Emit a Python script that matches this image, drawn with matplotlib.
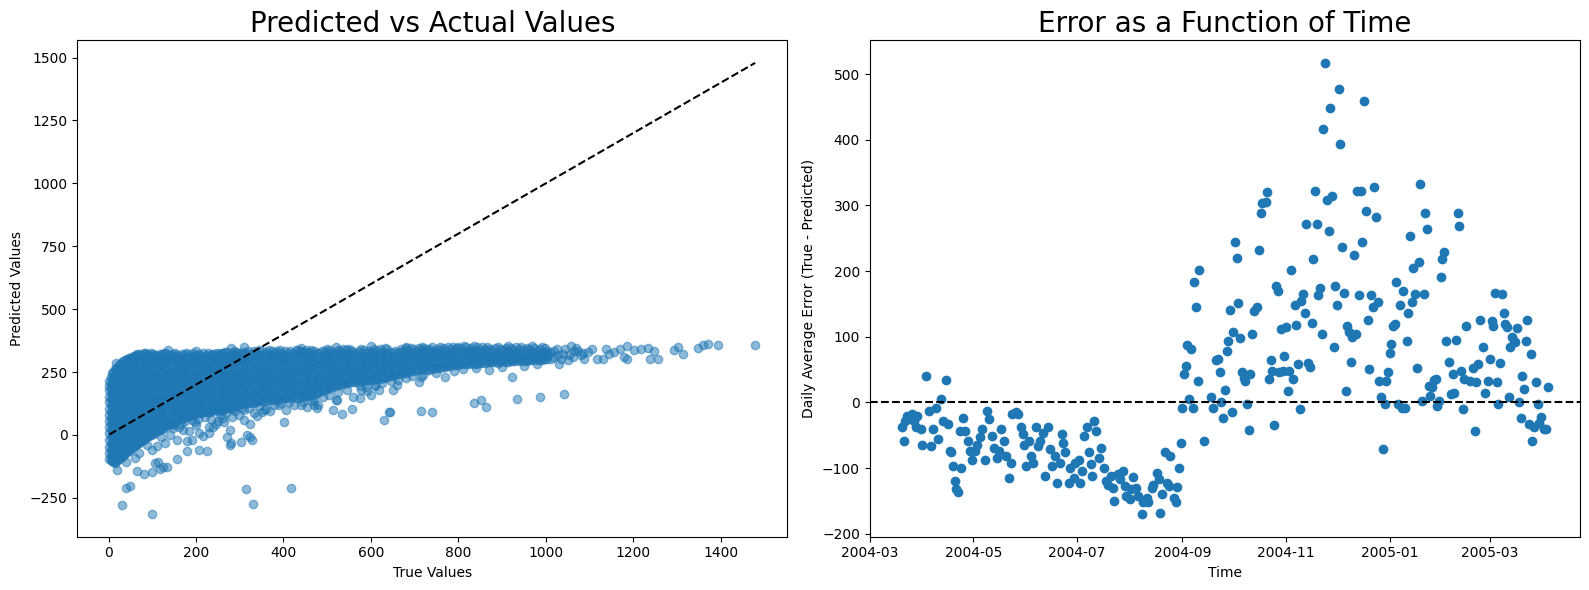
import numpy as np
import pandas as pd
import matplotlib
matplotlib.use('Agg')
import matplotlib.pyplot as plt

# ---- Left panel: true vs predicted NOx ----
# dense band, first pass of columns: true value -> predicted values seen there
band_true = [2, 8, 14, 20, 27, 34, 42, 50, 58, 66, 75, 84, 93,
             102, 112, 122, 132, 142, 152, 162, 172, 182, 192,
             202, 212, 222, 232, 242, 252, 262, 272, 282, 292,
             302, 314, 326, 338, 350, 362, 374, 386, 398, 410, 422, 434,
             446, 458, 470, 482, 494, 506, 518, 530, 542, 554, 566, 578,
             590, 602, 614, 626, 638, 650, 662, 674, 686, 698,
             710, 722, 734, 746, 758, 770, 782, 794, 806, 818, 830, 842,
             854, 866, 878, 890, 902, 914, 926, 938, 950, 962, 974, 986, 998]
band_pred = [
    [-95, -72, -48, -20, 6, 30, 56, 80, 104, 130, 152, 178, 196, 215],
    [-104, -80, -56, -30, -4, 20, 46, 70, 96, 120, 146, 170, 194, 220, 245],
    [-110, -86, -60, -34, -10, 16, 40, 66, 90, 116, 140, 166, 190, 214, 238, 262],
    [-100, -76, -50, -26, 0, 26, 50, 76, 100, 126, 150, 176, 200, 226, 250, 268],
    [-92, -66, -40, -16, 10, 34, 60, 84, 110, 134, 160, 184, 210, 234, 258, 282],
    [-82, -56, -30, -6, 20, 44, 70, 94, 120, 144, 170, 194, 220, 244, 270, 292],
    [-68, -44, -20, 6, 30, 56, 80, 106, 130, 156, 180, 206, 230, 256, 280, 300],
    [-58, -34, -10, 16, 40, 66, 90, 116, 140, 166, 190, 216, 240, 266, 290, 306],
    [-46, -24, 0, 26, 50, 76, 100, 126, 150, 176, 200, 226, 250, 276, 300, 314],
    [-38, -14, 10, 36, 60, 86, 110, 136, 160, 186, 210, 236, 260, 286, 308, 322],
    [-26, -4, 20, 46, 70, 96, 120, 146, 170, 196, 220, 246, 270, 296, 318],
    [-14, 10, 36, 60, 86, 110, 136, 160, 186, 210, 236, 260, 286, 310, 326],
    [-4, 20, 46, 70, 96, 120, 146, 170, 196, 220, 246, 270, 296, 318],
    [4, 30, 54, 80, 104, 130, 154, 180, 204, 230, 254, 280, 304, 322],
    [14, 40, 64, 90, 114, 140, 164, 190, 214, 240, 264, 290, 314],
    [24, 48, 74, 98, 124, 148, 174, 198, 224, 248, 274, 298, 320],
    [34, 60, 84, 110, 134, 160, 184, 210, 234, 260, 284, 308, 326],
    [44, 68, 94, 118, 144, 168, 194, 218, 244, 268, 294, 316],
    [54, 80, 104, 130, 154, 180, 204, 230, 254, 280, 304, 324],
    [62, 86, 112, 136, 162, 186, 212, 236, 262, 286, 310],
    [66, 92, 116, 142, 166, 192, 216, 242, 266, 292, 318],
    [74, 98, 124, 148, 174, 198, 224, 248, 274, 298, 322],
    [80, 106, 130, 156, 180, 206, 230, 256, 280, 304, 326],
    [86, 110, 136, 160, 186, 210, 236, 260, 286, 312],
    [88, 114, 138, 164, 188, 214, 238, 264, 288, 314],
    [92, 116, 142, 166, 192, 216, 242, 266, 292, 318],
    [90, 116, 140, 166, 190, 216, 240, 266, 290, 316],
    [98, 122, 148, 172, 198, 222, 248, 272, 298, 322],
    [96, 120, 146, 170, 196, 220, 246, 270, 296, 320],
    [102, 126, 152, 176, 202, 226, 252, 276, 302, 324],
    [108, 132, 158, 182, 208, 232, 258, 282, 306, 328],
    [104, 130, 154, 180, 204, 230, 254, 280, 304, 326],
    [114, 140, 164, 190, 214, 240, 264, 290, 314, 330],
    [122, 144, 166, 188, 210, 232, 254, 276, 298, 320],
    [128, 150, 172, 194, 216, 238, 260, 282, 304, 326],
    [125, 147, 169, 191, 213, 235, 257, 279, 301, 323],
    [132, 154, 176, 198, 220, 242, 264, 286, 308, 330],
    [136, 158, 180, 202, 224, 246, 268, 290, 312, 332],
    [134, 156, 178, 200, 222, 244, 266, 288, 310, 330],
    [140, 162, 184, 206, 228, 250, 272, 294, 316, 334],
    [138, 160, 182, 204, 226, 248, 270, 292, 314, 332],
    [145, 167, 189, 211, 233, 255, 277, 299, 321],
    [148, 170, 192, 214, 236, 258, 280, 302, 324],
    [150, 172, 194, 216, 238, 260, 282, 304, 326],
    [146, 168, 190, 212, 234, 256, 278, 300, 322, 336],
    [152, 174, 196, 218, 240, 262, 284, 306, 328],
    [155, 177, 199, 221, 243, 265, 287, 309, 331],
    [160, 182, 204, 226, 248, 270, 292, 314, 334],
    [170, 192, 214, 236, 258, 280, 302, 324],
    [180, 202, 224, 246, 268, 290, 312, 334],
    [188, 210, 232, 254, 276, 298, 320, 338],
    [195, 217, 239, 261, 283, 305, 327],
    [200, 222, 244, 266, 288, 310, 332],
    [205, 227, 249, 271, 293, 315, 337],
    [210, 232, 254, 276, 298, 320, 338],
    [212, 234, 256, 278, 300, 322],
    [216, 238, 260, 282, 304, 326, 340],
    [214, 236, 258, 280, 302, 324],
    [220, 242, 264, 286, 308, 330],
    [222, 244, 266, 288, 310, 332],
    [225, 247, 269, 291, 313, 335],
    [232, 254, 276, 298, 320, 340],
    [236, 258, 280, 302, 324],
    [242, 264, 286, 308, 330],
    [245, 267, 289, 311, 333],
    [250, 272, 294, 316, 338],
    [256, 278, 300, 322, 342],
    [260, 282, 304, 326, 344],
    [262, 284, 306, 328, 346],
    [258, 280, 302, 324, 342],
    [265, 287, 309, 331],
    [268, 290, 312, 334, 348],
    [272, 294, 316, 338],
    [275, 297, 319, 341],
    [278, 300, 322, 344],
    [280, 302, 324, 346],
    [282, 304, 326, 348],
    [284, 306, 328, 346],
    [282, 304, 326, 348],
    [286, 308, 330, 350],
    [288, 310, 332, 348],
    [290, 312, 334],
    [286, 308, 330, 350],
    [292, 314, 336],
    [290, 312, 334, 352],
    [294, 316, 338],
    [296, 318, 340],
    [292, 314, 336],
    [298, 320, 342],
    [300, 322, 344],
    [296, 318, 340],
    [302, 324, 346],
]

# second pass of columns, between the first ones
band_true_b = [5, 11, 17, 23, 30, 38, 46, 54, 62, 70, 80, 88, 97,
               107, 117, 127, 137, 147, 157, 167, 177, 187, 197,
               207, 217, 227, 237, 247, 257, 267, 277, 287, 297,
               308, 320, 332, 344, 356, 368, 380, 392, 404, 416, 428, 440,
               452, 464, 476, 488, 500, 512, 524, 536, 548, 560, 572, 584,
               596, 608, 620, 632, 644, 656, 668, 680, 692, 704,
               716, 728, 740, 752, 764, 776, 788, 800, 812, 824, 836, 848,
               860, 872, 884, 896, 908, 920, 932, 944, 956, 968, 980, 992, 1004]
band_pred_b = [
    [-100, -84, -60, -36, -8, 18, 42, 68, 92, 118, 142, 166, 188, 205, 230],
    [-108, -92, -68, -42, -16, 8, 34, 58, 84, 108, 134, 158, 182, 206, 230, 252],
    [-106, -96, -72, -46, -22, 4, 28, 54, 78, 104, 128, 154, 178, 202, 228, 252, 266],
    [-96, -88, -62, -38, -12, 14, 38, 64, 88, 114, 138, 164, 188, 214, 238, 262, 276],
    [-88, -78, -52, -28, -2, 22, 48, 72, 98, 122, 148, 172, 198, 222, 246, 270, 288],
    [-76, -68, -42, -18, 8, 32, 58, 82, 108, 132, 158, 182, 208, 232, 258, 282, 298],
    [-64, -56, -32, -8, 18, 42, 68, 92, 118, 142, 168, 192, 218, 242, 268, 292, 304],
    [-52, -46, -22, 4, 28, 54, 78, 104, 128, 154, 178, 204, 228, 254, 278, 300, 310],
    [-42, -36, -12, 14, 38, 64, 88, 114, 138, 164, 188, 214, 238, 264, 288, 310, 318],
    [-32, -26, -2, 24, 48, 74, 98, 124, 148, 174, 198, 224, 248, 274, 298, 320],
    [-20, -16, 8, 34, 58, 84, 108, 134, 158, 184, 208, 234, 258, 284, 308, 324],
    [-10, -2, 24, 48, 74, 98, 124, 148, 174, 198, 224, 248, 274, 298, 320],
    [0, 8, 34, 58, 84, 108, 134, 158, 184, 208, 234, 258, 284, 308, 324],
    [8, 18, 42, 68, 92, 118, 142, 168, 192, 218, 242, 268, 292, 316],
    [18, 28, 52, 78, 102, 128, 152, 178, 202, 228, 252, 278, 302, 322],
    [28, 36, 62, 86, 112, 136, 162, 186, 212, 236, 262, 286, 310, 324],
    [38, 48, 72, 98, 122, 148, 172, 198, 222, 248, 272, 296, 318],
    [48, 56, 82, 106, 132, 156, 182, 206, 232, 256, 282, 306, 322],
    [56, 68, 92, 118, 142, 168, 192, 218, 242, 268, 292, 316],
    [64, 74, 100, 124, 150, 174, 200, 224, 250, 274, 298, 320],
    [70, 80, 104, 130, 154, 180, 204, 230, 254, 280, 304, 324],
    [76, 86, 112, 136, 162, 186, 212, 236, 262, 286, 310],
    [82, 94, 118, 144, 168, 194, 218, 244, 268, 292, 316],
    [86, 98, 124, 148, 174, 198, 224, 248, 274, 298, 322],
    [90, 102, 126, 152, 176, 202, 226, 252, 276, 300, 324],
    [92, 104, 130, 154, 180, 204, 230, 254, 278, 304, 326],
    [94, 104, 128, 154, 178, 204, 228, 254, 278, 304, 322],
    [98, 110, 136, 160, 186, 210, 236, 260, 284, 310, 324],
    [100, 108, 134, 158, 184, 208, 234, 258, 284, 308, 326],
    [104, 114, 140, 164, 190, 214, 240, 264, 290, 314, 330],
    [108, 120, 144, 170, 194, 220, 244, 270, 294, 318],
    [110, 118, 142, 168, 192, 218, 242, 268, 292, 316, 332],
    [118, 130, 154, 178, 202, 228, 252, 278, 302, 324],
    [124, 133, 155, 177, 199, 221, 243, 265, 287, 309, 330],
    [126, 139, 161, 183, 205, 227, 249, 271, 293, 315, 334],
    [128, 136, 158, 180, 202, 224, 246, 268, 290, 312, 332],
    [134, 143, 165, 187, 209, 231, 253, 275, 297, 319, 336],
    [135, 147, 169, 191, 213, 235, 257, 279, 301, 323],
    [137, 145, 167, 189, 211, 233, 255, 277, 299, 321, 336],
    [139, 151, 173, 195, 217, 239, 261, 283, 305, 325],
    [142, 149, 171, 193, 215, 237, 259, 281, 303, 325, 338],
    [146, 156, 178, 200, 222, 244, 266, 288, 310, 332],
    [149, 159, 181, 203, 225, 247, 269, 291, 313, 334],
    [148, 161, 183, 205, 227, 249, 271, 293, 315, 336],
    [149, 157, 179, 201, 223, 245, 267, 289, 311, 332],
    [154, 163, 185, 207, 229, 251, 273, 295, 317, 336],
    [158, 166, 188, 210, 232, 254, 276, 298, 320, 338],
    [165, 171, 193, 215, 237, 259, 281, 303, 325],
    [175, 181, 203, 225, 247, 269, 291, 313, 335],
    [184, 191, 213, 235, 257, 279, 301, 323, 340],
    [192, 199, 221, 243, 265, 287, 309, 331],
    [198, 206, 228, 250, 272, 294, 316, 338],
    [202, 211, 233, 255, 277, 299, 321, 340],
    [208, 216, 238, 260, 282, 304, 326, 342],
    [211, 221, 243, 265, 287, 309, 331],
    [214, 223, 245, 267, 289, 311, 333],
    [215, 227, 249, 271, 293, 315, 337],
    [217, 225, 247, 269, 291, 313, 335],
    [221, 231, 253, 275, 297, 319, 340],
    [224, 233, 255, 277, 299, 321, 342],
    [228, 236, 258, 280, 302, 324, 344],
    [234, 243, 265, 287, 309, 331],
    [239, 247, 269, 291, 313, 335],
    [244, 253, 275, 297, 319, 340],
    [248, 256, 278, 300, 322, 344],
    [253, 261, 283, 305, 327, 346],
    [258, 267, 289, 311, 333],
    [261, 271, 293, 315, 337, 348],
    [260, 273, 295, 317, 339],
    [262, 269, 291, 313, 335, 348],
    [266, 276, 298, 320, 342],
    [270, 279, 301, 323, 345],
    [274, 283, 305, 327, 349],
    [276, 286, 308, 330, 350],
    [279, 289, 311, 333, 350],
    [281, 291, 313, 335, 352],
    [283, 293, 315, 337],
    [283, 295, 317, 339, 352],
    [284, 293, 315, 337],
    [287, 297, 319, 341],
    [289, 299, 321, 343],
    [288, 301, 323, 345],
    [289, 297, 319, 341],
    [291, 303, 325, 347],
    [292, 301, 323, 345],
    [295, 305, 327, 349],
    [294, 307, 329, 350],
    [295, 303, 325, 347],
    [299, 309, 331, 352],
    [298, 311, 333],
    [299, 307, 329, 351],
    [303, 313, 335],
]

# ragged fringe just under the dense band
fringe_true = [150, 165, 175, 190, 205, 220, 235, 255, 268, 290, 170, 198, 245, 262, 283, 298,
               310, 322, 345, 360, 378, 395, 412, 425, 445, 470, 490, 350, 405, 480,
               505, 525, 545, 560, 575, 590, 610, 625, 645, 660, 680, 695, 520, 650,
               720, 750, 770, 790, 810, 840, 870, 900, 950, 980,
               1005, 1012, 1020, 1028, 1036, 1045, 1062, 1070, 1085]
fringe_pred = [40, 45, 55, 60, 65, 70, 62, 78, 88, 95, 20, 50, 45, 68, 70, 80,
               100, 108, 115, 105, 118, 125, 130, 120, 132, 140, 150, 90, 100, 120,
               160, 170, 180, 150, 195, 190, 200, 205, 215, 200, 225, 235, 140, 180,
               240, 245, 230, 255, 262, 268, 260, 270, 275, 280,
               320, 300, 335, 318, 300, 340, 310, 345, 325]

# points that sit well off the dense band
stray_true = [16, 20, 40, 41, 50, 30, 99, 64, 80, 99, 106, 114, 124, 133, 157, 118,
              87, 110, 129, 148, 156, 179, 190, 180, 206, 225, 206, 229, 229, 263,
              277, 278, 281, 302, 309, 317, 324, 328, 305, 332, 324, 315, 330, 418, 402,
              469, 477, 523, 534, 514, 557, 576, 600, 619, 641, 630, 643, 661, 710, 715,
              714, 739, 836, 851, 863, 923, 935, 987, 1042, 577, 592, 610,
              185, 200, 215, 240, 250, 270, 340, 355, 370, 390, 440, 455, 465,
              160, 140, 120, 100, 70, 60,
              135, 200, 280, 310, 440, 520, 600, 680]
stray_pred = [287, -140, -108, -212, -203, -278, -315, -143, -155, -146, -112, -106, -126, -128, -97, -135,
              -40, -46, -33, 26, -20, -26, -22, -62, -60, -65, 7, 33, 7, 53,
              -40, 20, -33, -30, 60, 0, -7, -20, 106, 86, 45, -214, -275, -212, 50,
              119, 106, 139, 83, 99, 102, 146, 159, 179, 93, 60, 90, 218, 212, 230,
              95, 90, 126, 139, 110, 229, 142, 150, 161, 180, 175, 195,
              15, 40, -5, 30, 55, -10, 75, 100, 95, 120, 120, 110, 135,
              30, 0, -10, -60, -70, -90,
              338, 335, 345, 350, 345, 350, 352, 350]

# sparse high end of the true values
tail_true = [1010, 1018, 1025, 1031, 1040, 1050, 1054, 1058, 1065, 1073, 1080, 1088,
             1096, 1105, 1118, 1130, 1138, 1145, 1157, 1170, 1179, 1187, 1187, 1202,
             1218, 1233, 1239, 1248, 1256, 1294, 1302, 1313, 1348, 1359, 1371, 1394, 1479]
tail_pred = [330, 310, 340, 282, 320, 297, 316, 352, 335, 333, 318, 301,
             330, 340, 300, 303, 340, 322, 331, 340, 311, 300, 352, 336,
             343, 347, 300, 333, 300, 337, 350, 320, 347, 357, 361, 356, 356]

# ---- Right panel: daily average error, days counted from 2004-03-01 ----
err_day = [19, 20, 21, 22, 24, 25, 26, 27, 28, 30, 31, 33, 35, 36, 37, 39, 40, 42, 43, 45,
           46, 47, 48, 49, 50, 51, 52, 53, 54, 55, 56, 58, 59, 60, 62, 63, 65, 66, 68, 69,
           70, 72, 73, 75, 76, 77, 79, 80, 82, 83, 84, 86, 87, 89, 90, 91, 92, 94, 95, 96,
           98, 99, 100, 102, 103, 105, 106, 107, 109, 110, 112, 113, 114, 115, 117, 118, 120, 121, 123, 124,
           125, 126, 128, 129, 130, 131, 132, 133, 135, 136, 138, 139, 140, 142, 143, 144, 146, 147, 149, 150,
           151, 153, 154, 155, 157, 158, 160, 161, 163, 164, 166, 167, 169, 170, 171, 172, 174, 175, 176, 177,
           179, 180, 181, 182, 183, 184, 185, 186, 187, 188, 189, 190, 191, 192, 193, 194,
           197, 201, 202, 204, 205, 206, 207, 208, 209, 210, 211, 212, 213, 214, 215, 216, 217, 218, 219, 220,
           221, 222, 223, 224, 225, 226, 228, 229, 230, 231, 233, 234, 235, 236, 237, 238, 239, 240, 241, 242,
           243, 244, 245, 246, 247, 248, 249, 250, 251, 252, 253, 254, 255, 256, 257, 258, 259, 260, 261, 262,
           263, 264, 265, 266, 267, 268, 269, 270, 271, 272, 273, 274, 275, 276, 277, 278, 279, 280, 281, 282,
           283, 284, 285, 286, 287, 288, 289, 290, 291, 292, 293, 294, 295, 296, 297, 298, 299, 300, 301, 302,
           303, 304, 305, 306, 307, 308, 309, 310, 311, 312, 313, 314, 315, 316, 317, 318, 319, 320, 321, 322,
           323, 324, 325, 326, 327, 328, 329, 330, 331, 332, 333, 334, 335, 336, 337, 338, 339, 341, 342, 343,
           344, 345, 346, 347, 348, 349, 350, 351, 353, 355, 356, 357, 358, 359, 361, 362, 364, 365, 366, 367,
           368, 369, 370, 371, 372, 373, 374, 375, 376, 377, 378, 379, 380, 381, 382, 383, 384, 385, 386, 387,
           388, 389, 390, 391, 392, 393, 394, 395, 397, 398, 399]
err_val = [-38, -58, -28, -20, -23, -17, -28, -38, -20, -41, -64, 41, -13, -66, -41, -8, -56, 5, -28, 34,
           -33, -74, -76, -97, -120, -132, -137, -43, -99, -23, -43, -58, -74, -87, -74, -64, -53, -41, -87, -13,
           -25, -51, -69, -84, -74, -41, -58, -81, -115, -92, -18, -15, -18, -38, -48, -64, -97, -58, -81, -92,
           -38, -66, -58, -46, -112, -38, -71, -97, -81, -122, -92, -48, -61, -76, -122, -99, -115, -92, -87, -122,
           -104, -51, -38, -76, -94, -112, -28, -43, -84, -69, -99, -119, -125, -112, -130, -150, -109, -117, -104, -127,
           -142, -147, -132, -114, -130, -142, -170, -152, -145, -152, -130, -125, -107, -117, -168, -140, -76, -122, -127, -81,
           -145, -152, -129, -99, -61, -8, 43, 56, 87, 5, 82, -8, 183, 145, 33, 201,
           -58, 8, -8, 64, 66, 46, 0, -23, 19, 79, 94, 141, -15, 107, 244, 220, 151, 98, 46, 38,
           33, -3, -42, 43, 104, 140, 145, 232, 288, 303, 305, 321, 36, 64, 48, -34, 178, 170, 46, 112,
           48, 71, 115, 18, 48, 202, 36, 148, 118, 59, -10, 155, 165, 137, 271, 60, 54, 121, 219, 322,
           272, 163, 175, 104, 416, 517, 308, 261, 449, 315, 84, 178, 148, 478, 393, 236, 166, 17, 117, 108,
           61, 99, 224, 104, 322, 164, 322, 244, 459, 291, 125, 51, 163, 145, 328, 282, 153, 32, 9, -71,
           -3, 32, 46, 76, 89, 116, 120, 183, -3, 149, -8, 170, -8, 94, 137, 254, 153, 204, 165, 53,
           214, 333, 2, 165, 288, 264, 25, 10, 23, 34, 36, -5, 3, 191, 219, 229, 94, 61, 13, 44,
           15, 95, 288, 269, 48, -10, 36, 116, 33, 53, -43, 31, 59, 125, 85, 15, 32, 66, 124, 117,
           167, 31, -3, 60, 165, 136, 120, 115, 9, 85, 100, 94, 92, 113, 0, -24, 41, 20, 94, 125,
           -33, 74, -58, -38, 31, -2, -31, -22, -41, -41, 23]

# assemble the left panel points
sizes_a = [len(c) for c in band_pred]
sizes_b = [len(c) for c in band_pred_b]
true_vals = np.concatenate([np.repeat(band_true, sizes_a), np.repeat(band_true_b, sizes_b),
                            fringe_true, stray_true, tail_true]).astype(float)
pred_vals = np.concatenate([np.concatenate(band_pred), np.concatenate(band_pred_b),
                            fringe_pred, stray_pred, tail_pred]).astype(float)

err_dates = pd.Timestamp('2004-03-01') + pd.to_timedelta(err_day, unit='D')

fig, (ax1, ax2) = plt.subplots(1, 2, figsize=(16, 6))

# Predicted vs actual
ax1.scatter(true_vals, pred_vals, alpha=0.5)
lims = [true_vals.min(), true_vals.max()]
ax1.plot(lims, lims, 'k--')
ax1.set_xlabel('True Values')
ax1.set_ylabel('Predicted Values')
ax1.set_title('Predicted vs Actual Values', fontsize=20)

# Error over time
ax2.scatter(err_dates, err_val)
ax2.axhline(0, color='black', linestyle='--')
ax2.set_xlabel('Time')
ax2.set_ylabel('Daily Average Error (True - Predicted)')
ax2.set_title('Error as a Function of Time', fontsize=20)

plt.tight_layout()
plt.savefig('out.png', dpi=100, bbox_inches='tight')
